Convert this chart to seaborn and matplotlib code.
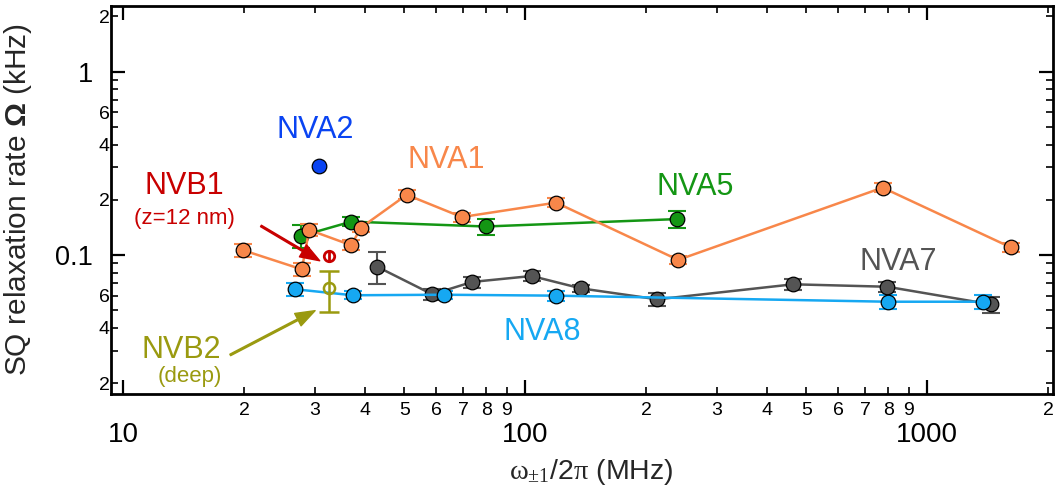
import numpy as np
import pandas as pd
import seaborn as sns
import matplotlib
matplotlib.use("Agg")
import matplotlib.pyplot as plt
from matplotlib.ticker import FixedLocator, FixedFormatter

# data (x in MHz, y in kHz)
nva1_x = [19.9, 27.8, 29.0, 36.9, 39.0, 50.7, 69.5, 119.3, 240, 774, 1613]
nva1_y = [0.106, 0.0835, 0.137, 0.113, 0.141, 0.213, 0.161, 0.193, 0.094, 0.233, 0.110]
nva1_err = [0.009, 0.007, 0.010, 0.007, 0.008, 0.012, 0.009, 0.011, 0.005, 0.013, 0.006]

nva2_x = [30.7]
nva2_y = [0.306]

nva5_x = [27.7, 36.9, 79.7, 239]
nva5_y = [0.127, 0.152, 0.143, 0.157]
nva5_err = [0.018, 0.009, 0.015, 0.016]

nva7_x = [42.8, 58.7, 73.8, 103.7, 137.3, 213, 464, 795, 1438]
nva7_y = [0.0863, 0.061, 0.0713, 0.0768, 0.0658, 0.0573, 0.0692, 0.0671, 0.0538]
nva7_err = [0.017, 0.004, 0.005, 0.005, 0.003, 0.0045, 0.005, 0.004, 0.0055]

nva8_x = [26.8, 37.2, 62.7, 119.3, 797, 1378]
nva8_y = [0.065, 0.0603, 0.0607, 0.060, 0.0556, 0.0556]
nva8_err = [0.005, 0.003, 0.003, 0.004, 0.005, 0.005]

nvb1_x, nvb1_y, nvb1_err = [32.4], [0.099], [0.006]
nvb2_x, nvb2_y = [32.4], [0.0658]
nvb2_err_lo, nvb2_err_hi = [0.0168], [0.016]

colors = {
    "NVA1": "#f8874a",
    "NVA2": "#0a44f2",
    "NVA5": "#149614",
    "NVA7": "#545454",
    "NVA8": "#16a8f2",
}
nvb1_color = "#c80000"
nvb2_color = "#9a9a10"

series = {
    "NVA7": (nva7_x, nva7_y, nva7_err),
    "NVA5": (nva5_x, nva5_y, nva5_err),
    "NVA1": (nva1_x, nva1_y, nva1_err),
    "NVA8": (nva8_x, nva8_y, nva8_err),
    "NVA2": (nva2_x, nva2_y, None),
}

df = pd.concat([pd.DataFrame({"freq": x, "rate": y, "nv": name})
                for name, (x, y, e) in series.items()], ignore_index=True)

sns.set_style("ticks")
plt.rcParams["font.family"] = ["Liberation Sans", "DejaVu Sans"]
plt.rcParams["mathtext.fontset"] = "custom"
plt.rcParams["mathtext.rm"] = "Liberation Serif"
plt.rcParams["mathtext.it"] = "Liberation Serif:italic"
plt.rcParams["mathtext.bf"] = "Liberation Sans:bold"

fig = plt.figure(figsize=(10.55, 4.97), dpi=100)
ax = fig.add_axes([111 / 1055, 103 / 497, (1053 - 111) / 1055, 388 / 497])
ax.set_xscale("log")
ax.set_yscale("log")

# error bars below the markers
for name, (x, y, e) in series.items():
    if e is not None:
        ax.errorbar(x, y, yerr=e, fmt="none", ecolor=colors[name],
                    elinewidth=1.5, capsize=6.5, capthick=1.5, zorder=1.5)

sns.lineplot(data=df, x="freq", y="rate", hue="nv", hue_order=list(series.keys()),
             palette=colors, marker="o", markersize=10.5, markeredgecolor="black",
             markeredgewidth=0.9, linewidth=1.8, estimator=None, sort=False,
             legend=False, ax=ax)

ax.errorbar(nvb1_x, nvb1_y, yerr=nvb1_err, fmt="o", mfc="none", mec=nvb1_color,
            mew=2, ms=7.5, ecolor=nvb1_color, elinewidth=2, capsize=0, zorder=3)
ax.errorbar(nvb2_x, nvb2_y, yerr=[nvb2_err_lo, nvb2_err_hi], fmt="o", mfc="none",
            mec=nvb2_color, mew=1.8, ms=8, ecolor=nvb2_color, elinewidth=1.8,
            capsize=7, capthick=1.8, zorder=3)

# series labels
lab = dict(fontsize=22, ha="center", va="center")
ax.text(30, 0.48, "NVA2", color=colors["NVA2"], **lab)
ax.text(63.5, 0.33, "NVA1", color=colors["NVA1"], **lab)
ax.text(264, 0.236, "NVA5", color=colors["NVA5"], **lab)
ax.text(849, 0.092, "NVA7", color=colors["NVA7"], **lab)
ax.text(110, 0.038, "NVA8", color=colors["NVA8"], **lab)
ax.text(14.2, 0.238, "NVB1", color=nvb1_color, **lab)
ax.text(14.16, 0.159, "(z=12 nm)", color=nvb1_color, fontsize=16, ha="center", va="center")
ax.text(13.95, 0.0303, "NVB2", color=nvb2_color, **lab)
ax.text(14.65, 0.0217, "(deep)", color=nvb2_color, fontsize=16, ha="center", va="center")

# pointer arrows
ax.annotate("", xy=(30.8, 0.093), xytext=(22.0, 0.144),
            arrowprops=dict(facecolor=nvb1_color, edgecolor=nvb1_color, width=1.2,
                            headwidth=10, headlength=14, shrink=0))
ax.annotate("", xy=(30.0, 0.0497), xytext=(18.45, 0.0285),
            arrowprops=dict(facecolor=nvb2_color, edgecolor=nvb2_color, width=1.2,
                            headwidth=10, headlength=14, shrink=0))

ax.set_xlim(9.32, 2054)
ax.set_ylim(0.01745, 2.28)

# ticks: majors with big labels, minors with single digits
x_major = [10, 100, 1000]
x_minor = [m * 10 ** k for k in (1, 2, 3) for m in range(2, 10) if m * 10 ** k <= 2000]
ax.xaxis.set_major_locator(FixedLocator(x_major))
ax.xaxis.set_major_formatter(FixedFormatter(["10", "100", "1000"]))
ax.xaxis.set_minor_locator(FixedLocator(x_minor))
ax.xaxis.set_minor_formatter(FixedFormatter([str(int(round(v / 10 ** int(np.floor(np.log10(v))))))
                                              for v in x_minor]))

y_major = [0.1, 1]
y_minor = [m * 10.0 ** k for k in (-2, -1, 0) for m in range(2, 10) if m * 10.0 ** k <= 2.2]
ax.yaxis.set_major_locator(FixedLocator(y_major))
ax.yaxis.set_major_formatter(FixedFormatter(["0.1", "1"]))
ax.yaxis.set_minor_locator(FixedLocator(y_minor))
y_minor_labels = []
for v in y_minor:
    m = int(round(v / 10.0 ** np.floor(np.log10(v))))
    y_minor_labels.append(str(m) if m in (2, 4, 6) else "")
ax.yaxis.set_minor_formatter(FixedFormatter(y_minor_labels))

ax.tick_params(which="both", direction="in", top=True, right=True, colors="black")
ax.tick_params(which="major", length=10, width=1.6)
ax.tick_params(which="minor", length=5, width=1.2)
ax.tick_params(axis="x", which="major", labelsize=20, pad=20)
ax.tick_params(axis="x", which="minor", labelsize=14, pad=6)
ax.tick_params(axis="y", which="major", labelsize=19.5, pad=13)
ax.tick_params(axis="y", which="minor", labelsize=14, pad=1)

for sp in ax.spines.values():
    sp.set_linewidth(2)
    sp.set_color("black")

ax.set_xlabel(r"$\mathrm{\omega_{\pm1}}$/2$\mathrm{\pi}$ (MHz)", fontsize=20.5)
ax.set_ylabel(r"SQ relaxation rate $\mathbf{\Omega}$ (kHz)", fontsize=21.5)
ax.xaxis.set_label_coords(0.51, -0.162)
ax.yaxis.set_label_coords(-0.082, 0.5)

fig.savefig("out.png", dpi=100)
